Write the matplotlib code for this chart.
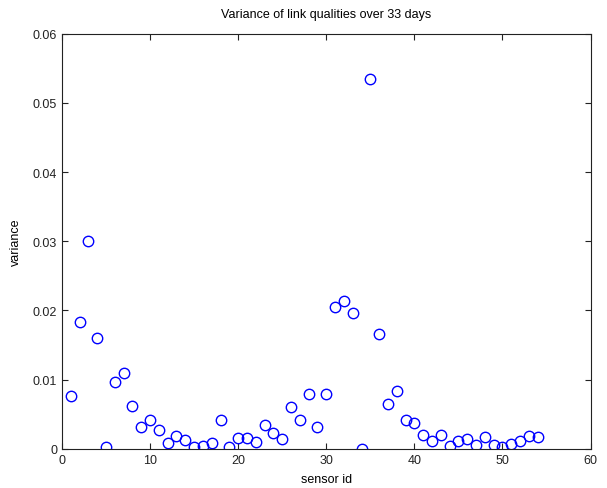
import numpy as np
import matplotlib
matplotlib.use("Agg")
import matplotlib.pyplot as plt

# ------------------ data ------------------
sensor_id = np.arange(1, 55)
variance = [
    0.0077, 0.0183, 0.0300, 0.0160, 0.0002, 0.0096, 0.0109, 0.0062, 0.0032, 0.0042,
    0.0028, 0.0009, 0.0019, 0.0013, 0.0002, 0.0004, 0.0009, 0.0042, 0.0003, 0.0016,
    0.0016, 0.0010, 0.0034, 0.0023, 0.0014, 0.0060, 0.0042, 0.0080, 0.0032, 0.0080,
    0.0205, 0.0214, 0.0197, 0.0000, 0.0535, 0.0166, 0.0065, 0.0084, 0.0042, 0.0038,
    0.0020, 0.0012, 0.0020, 0.0004, 0.0012, 0.0014, 0.0006, 0.0017, 0.0006, 0.0002,
    0.0007, 0.0012, 0.0019, 0.0017,
]
x_ticks = [0, 10, 20, 30, 40, 50, 60]
y_ticks = [0, 0.01, 0.02, 0.03, 0.04, 0.05, 0.06]
y_tick_labels = ["0", "0.01", "0.02", "0.03", "0.04", "0.05", "0.06"]

# ------------------ plot ------------------
plt.rcParams['font.family'] = ['Liberation Sans', 'DejaVu Sans']
fig = plt.figure(figsize=(6.07, 4.89), dpi=100)
ax = fig.add_axes([0.102, 0.080, 0.871, 0.849])

ax.plot(sensor_id, variance, 'o', markerfacecolor='none', markeredgecolor='#0000ff',
        markersize=7.5, markeredgewidth=1.0)

ax.set_xlim(0, 60)
ax.set_ylim(0, 0.06)
ax.set_xticks(x_ticks)
ax.set_yticks(y_ticks)
ax.set_yticklabels(y_tick_labels)
ax.tick_params(direction='in', length=4, width=0.8, labelsize=9, top=True, right=True,
               colors='#222222')
for s in ax.spines.values():
    s.set_linewidth(0.8)
    s.set_color('#222222')

ax.set_title("Variance of link qualities over 33 days", fontsize=9, pad=12)
ax.set_xlabel("sensor id", fontsize=9, labelpad=5)
ax.set_ylabel("variance", fontsize=9, labelpad=8)

fig.savefig("out.png", dpi=100)
